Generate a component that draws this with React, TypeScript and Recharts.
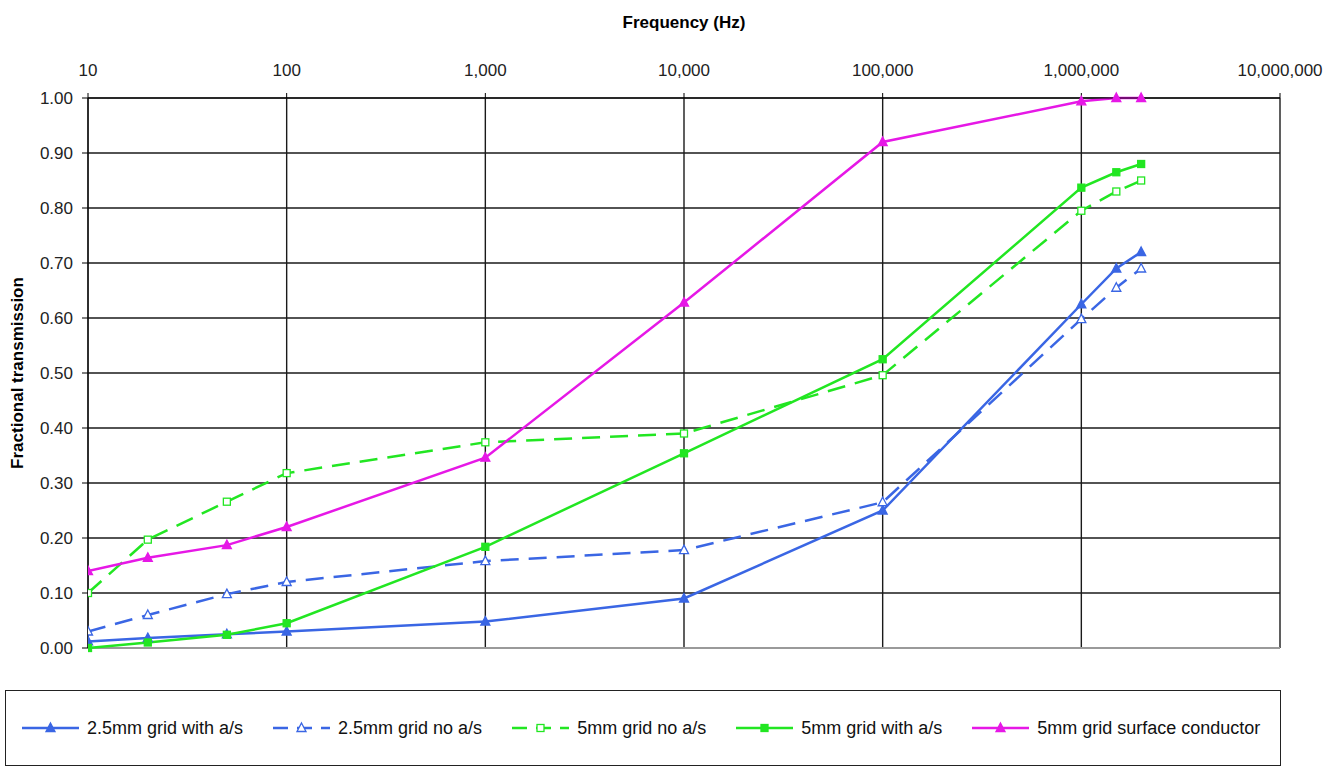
import React from "react";
import {
  LineChart,
  Line,
  XAxis,
  YAxis,
  CartesianGrid,
  Legend,
  ReferenceLine,
} from "recharts";

// frequency points (Hz)
const frequencies = [10, 20, 50, 100, 1000, 10000, 100000, 1000000, 1500000, 2000000];

// fractional transmission per sample
const grid25WithAs = [0.012, 0.018, 0.025, 0.03, 0.048, 0.09, 0.25, 0.625, 0.69, 0.72];
const grid25NoAs = [0.03, 0.06, 0.098, 0.12, 0.158, 0.178, 0.265, 0.598, 0.655, 0.69];
const grid5NoAs = [0.1, 0.197, 0.266, 0.318, 0.374, 0.39, 0.496, 0.795, 0.83, 0.85];
const grid5WithAs = [0.0, 0.01, 0.024, 0.045, 0.184, 0.354, 0.525, 0.837, 0.865, 0.88];
const grid5Surface = [0.14, 0.164, 0.187, 0.22, 0.346, 0.628, 0.92, 0.994, 1.0, 1.0];

const xTicks = [10, 100, 1000, 10000, 100000, 1000000, 10000000];
const yTicks = [0, 0.1, 0.2, 0.3, 0.4, 0.5, 0.6, 0.7, 0.8, 0.9, 1.0];

const BLUE = "#3a66e4";
const GREEN = "#22e622";
const MAGENTA = "#e618e6";
const FONT = "'Liberation Sans', Arial, sans-serif";

type Shape = "triangle" | "square";

type Series = {
  key: string;
  name: string;
  values: number[];
  color: string;
  dashed: boolean;
  shape: Shape;
  filled: boolean;
};

const series: Series[] = [
  { key: "g25with", name: "2.5mm grid with a/s", values: grid25WithAs, color: BLUE, dashed: false, shape: "triangle", filled: true },
  { key: "g25no", name: "2.5mm grid no a/s", values: grid25NoAs, color: BLUE, dashed: true, shape: "triangle", filled: false },
  { key: "g5no", name: "5mm grid no a/s", values: grid5NoAs, color: GREEN, dashed: true, shape: "square", filled: false },
  { key: "g5with", name: "5mm grid with a/s", values: grid5WithAs, color: GREEN, dashed: false, shape: "square", filled: true },
  { key: "g5surf", name: "5mm grid surface conductor", values: grid5Surface, color: MAGENTA, dashed: false, shape: "triangle", filled: true },
];

const data = frequencies.map((f, i) => {
  const row: Record<string, number> = { f };
  series.forEach((s) => {
    row[s.key] = s.values[i];
  });
  return row;
});

const DASH = "18 10";

function Marker({ cx, cy, shape, color, filled }: { cx?: number; cy?: number; shape: Shape; color: string; filled: boolean }) {
  if (cx == null || cy == null) return null;
  const fill = filled ? color : "#fff";
  if (shape === "square") {
    return <rect x={cx - 3.5} y={cy - 3.5} width={7} height={7} fill={fill} stroke={color} strokeWidth={1.3} />;
  }
  return (
    <polygon
      points={`${cx},${cy - 5} ${cx + 4.5},${cy + 3.5} ${cx - 4.5},${cy + 3.5}`}
      fill={fill}
      stroke={color}
      strokeWidth={1.3}
    />
  );
}

function LegendBox() {
  return (
    <div
      style={{
        boxSizing: "border-box",
        width: "100%",
        height: 76,
        border: "1.5px solid #222",
        background: "#fff",
        display: "flex",
        alignItems: "center",
        paddingLeft: 16,
        gap: 30,
        fontFamily: FONT,
        fontSize: 18,
        color: "#111",
      }}
    >
      {series.map((s) => (
        <div key={s.key} style={{ display: "flex", alignItems: "center", gap: 8 }}>
          <svg width={57} height={14}>
            <line
              x1={0}
              y1={7}
              x2={57}
              y2={7}
              stroke={s.color}
              strokeWidth={2.4}
              strokeDasharray={s.dashed ? "15 9" : undefined}
            />
            <Marker cx={28.5} cy={7} shape={s.shape} color={s.color} filled={s.filled} />
          </svg>
          <span>{s.name}</span>
        </div>
      ))}
    </div>
  );
}

export default function App() {
  return (
    <div
      style={{
        position: "absolute",
        left: 0,
        top: 0,
        width: 1341,
        height: 768,
        background: "#fff",
        fontFamily: FONT,
      }}
    >
      <LineChart
        width={1341}
        height={768}
        data={data}
        margin={{ top: 8, right: 61, left: 10, bottom: 42 }}
      >
        <CartesianGrid stroke="#1a1a1a" strokeWidth={1.4} />
        <XAxis
          dataKey="f"
          type="number"
          scale="log"
          domain={[10, 10000000]}
          allowDataOverflow
          ticks={xTicks}
          interval={0}
          orientation="top"
          height={90}
          tickSize={5}
          tickMargin={17}
          stroke="#000"
          tick={{ fill: "#222", fontSize: 17, fontFamily: FONT }}
          tickFormatter={(v: number) => v.toLocaleString("en-US")}
          label={{
            value: "Frequency (Hz)",
            position: "insideTop",
            offset: 8,
            style: { fontWeight: 700, fontSize: 17, fill: "#000", fontFamily: FONT },
          }}
        />
        <YAxis
          type="number"
          domain={[0, 1]}
          ticks={yTicks}
          interval={0}
          width={78}
          tickSize={6}
          tickMargin={9}
          stroke="#000"
          tick={{ fill: "#222", fontSize: 17, fontFamily: FONT }}
          tickFormatter={(v: number) => v.toFixed(2)}
          label={{
            value: "Fractional transmission",
            angle: -90,
            position: "insideLeft",
            offset: 7,
            style: { textAnchor: "middle", fontWeight: 700, fontSize: 17, fill: "#000", fontFamily: FONT },
          }}
        />
        <ReferenceLine y={0} stroke="#9a9a9a" strokeWidth={2} />
        {series.map((s) => (
          <Line
            key={s.key}
            dataKey={s.key}
            name={s.name}
            type="linear"
            stroke={s.color}
            strokeWidth={2.5}
            strokeDasharray={s.dashed ? DASH : undefined}
            isAnimationActive={false}
            dot={(p: any) => (
              <Marker key={`${s.key}-${p.index}`} cx={p.cx} cy={p.cy} shape={s.shape} color={s.color} filled={s.filled} />
            )}
            activeDot={false}
          />
        ))}
        <Legend
          verticalAlign="bottom"
          content={() => <LegendBox />}
          wrapperStyle={{ left: 5, top: 690, width: 1276, height: 78 }}
        />
      </LineChart>
    </div>
  );
}
